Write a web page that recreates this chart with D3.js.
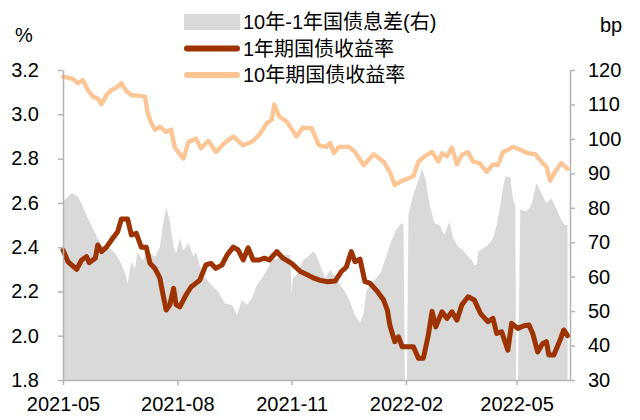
<!DOCTYPE html>
<html><head><meta charset="utf-8">
<script src="https://cdn.jsdelivr.net/npm/d3@7"></script>
<style>
html,body{margin:0;padding:0;background:#fff;}
text{font-family:"Liberation Sans",Arial,"Noto Sans CJK SC",sans-serif;fill:#000;}
</style></head>
<body><svg id="c" width="640" height="420"></svg>
<script>
// ---------- DATA ----------
const seriesNames = ["10年-1年国债息差(右)", "1年期国债收益率", "10年期国债收益率"];

const dates10Y = ["2021-05-01","2021-05-09","2021-05-13","2021-05-17","2021-05-21","2021-05-25","2021-05-29","2021-06-01","2021-06-05","2021-06-09","2021-06-13","2021-06-17","2021-06-21","2021-06-25","2021-06-30","2021-07-06","2021-07-08","2021-07-11","2021-07-14","2021-07-18","2021-07-23","2021-07-27","2021-07-30","2021-08-03","2021-08-06","2021-08-10","2021-08-16","2021-08-20","2021-08-26","2021-09-01","2021-09-08","2021-09-15","2021-09-23","2021-09-30","2021-10-06","2021-10-12","2021-10-16","2021-10-18","2021-10-22","2021-10-28","2021-11-05","2021-11-10","2021-11-17","2021-11-23","2021-11-29","2021-12-02","2021-12-05","2021-12-09","2021-12-17","2021-12-22","2021-12-29","2022-01-06","2022-01-14","2022-01-19","2022-01-23","2022-01-29","2022-02-07","2022-02-11","2022-02-16","2022-02-22","2022-02-27","2022-03-02","2022-03-06","2022-03-10","2022-03-14","2022-03-18","2022-03-23","2022-03-27","2022-04-01","2022-04-07","2022-04-12","2022-04-16","2022-04-20","2022-04-24","2022-04-28","2022-05-04","2022-05-10","2022-05-16","2022-05-21","2022-05-25","2022-05-28","2022-06-01","2022-06-06","2022-06-11"];
const yield10Y = [3.17,3.16,3.14,3.155,3.11,3.08,3.07,3.045,3.087,3.11,3.12,3.14,3.105,3.087,3.084,3.08,3.01,2.96,2.93,2.944,2.92,2.93,2.85,2.82,2.80,2.875,2.89,2.846,2.88,2.83,2.87,2.90,2.86,2.876,2.907,2.96,2.975,3.045,2.99,2.967,2.90,2.94,2.937,2.86,2.853,2.87,2.824,2.853,2.853,2.83,2.77,2.82,2.786,2.74,2.68,2.70,2.72,2.786,2.81,2.83,2.786,2.824,2.81,2.85,2.774,2.816,2.83,2.786,2.78,2.74,2.774,2.77,2.83,2.84,2.853,2.84,2.824,2.82,2.786,2.763,2.70,2.74,2.78,2.753];

const dates1Y = ["2021-05-01","2021-05-05","2021-05-12","2021-05-16","2021-05-20","2021-05-22","2021-05-27","2021-05-29","2021-06-01","2021-06-05","2021-06-10","2021-06-14","2021-06-17","2021-06-22","2021-06-25","2021-06-29","2021-07-03","2021-07-07","2021-07-10","2021-07-14","2021-07-18","2021-07-20","2021-07-23","2021-07-26","2021-07-29","2021-07-31","2021-08-03","2021-08-08","2021-08-12","2021-08-19","2021-08-24","2021-08-28","2021-09-01","2021-09-06","2021-09-10","2021-09-15","2021-09-19","2021-09-23","2021-09-27","2021-10-01","2021-10-06","2021-10-10","2021-10-14","2021-10-20","2021-10-25","2021-11-01","2021-11-08","2021-11-14","2021-11-19","2021-11-24","2021-11-30","2021-12-06","2021-12-11","2021-12-15","2021-12-19","2021-12-22","2021-12-26","2021-12-30","2022-01-03","2022-01-09","2022-01-14","2022-01-17","2022-01-19","2022-01-23","2022-01-26","2022-01-29","2022-02-07","2022-02-11","2022-02-15","2022-02-19","2022-02-22","2022-02-25","2022-03-02","2022-03-06","2022-03-10","2022-03-14","2022-03-18","2022-03-23","2022-03-28","2022-04-02","2022-04-08","2022-04-12","2022-04-15","2022-04-19","2022-04-24","2022-04-27","2022-05-02","2022-05-07","2022-05-11","2022-05-14","2022-05-18","2022-05-22","2022-05-25","2022-05-27","2022-05-31","2022-06-05","2022-06-08","2022-06-11"];
const yield1Y = [2.387,2.334,2.30,2.342,2.357,2.33,2.35,2.41,2.38,2.40,2.44,2.47,2.527,2.527,2.455,2.462,2.40,2.40,2.327,2.304,2.26,2.20,2.116,2.14,2.214,2.14,2.13,2.184,2.22,2.25,2.32,2.327,2.304,2.32,2.364,2.40,2.387,2.342,2.397,2.342,2.342,2.35,2.342,2.38,2.35,2.327,2.29,2.274,2.26,2.25,2.244,2.247,2.29,2.31,2.38,2.334,2.346,2.244,2.237,2.20,2.161,2.116,2.048,1.973,1.995,1.95,1.95,1.898,1.898,2.003,2.11,2.04,2.108,2.078,2.108,2.07,2.14,2.176,2.161,2.10,2.063,2.078,2.01,2.018,1.935,2.056,2.033,2.045,2.048,2.01,1.927,1.965,1.973,1.913,1.913,1.98,2.026,2.0];

const datesSpread = ["2021-05-01","2021-05-08","2021-05-13","2021-05-17","2021-05-21","2021-05-25","2021-05-29","2021-06-02","2021-06-08","2021-06-12","2021-06-16","2021-06-20","2021-06-22","2021-06-25","2021-06-28","2021-06-30","2021-07-04","2021-07-08","2021-07-14","2021-07-18","2021-07-20","2021-07-23","2021-07-26","2021-07-29","2021-07-31","2021-08-03","2021-08-06","2021-08-10","2021-08-14","2021-08-16","2021-08-19","2021-08-22","2021-08-27","2021-09-03","2021-09-08","2021-09-14","2021-09-18","2021-09-22","2021-09-26","2021-09-30","2021-10-04","2021-10-08","2021-10-12","2021-10-16","2021-10-21","2021-10-26","2021-10-31","2021-11-01","2021-11-02","2021-11-06","2021-11-10","2021-11-14","2021-11-18","2021-11-20","2021-11-24","2021-11-28","2021-12-02","2021-12-06","2021-12-10","2021-12-14","2021-12-18","2021-12-22","2021-12-26","2021-12-29","2021-12-31","2022-01-04","2022-01-08","2022-01-12","2022-01-16","2022-01-20","2022-01-24","2022-01-28","2022-01-30","2022-02-01","2022-02-03","2022-02-07","2022-02-11","2022-02-14","2022-02-17","2022-02-20","2022-02-24","2022-02-28","2022-03-04","2022-03-08","2022-03-11","2022-03-15","2022-03-19","2022-03-23","2022-03-26","2022-03-28","2022-03-30","2022-03-31","2022-04-04","2022-04-08","2022-04-12","2022-04-15","2022-04-18","2022-04-20","2022-04-22","2022-04-26","2022-04-28","2022-04-30","2022-05-01","2022-05-04","2022-05-09","2022-05-13","2022-05-17","2022-05-21","2022-05-25","2022-05-29","2022-06-02","2022-06-06","2022-06-09","2022-06-11"];
const spreadBp = [81.8,84.2,83.2,80.3,77,74,71.1,68.7,68.2,66.8,64.3,61,58.1,64.3,62.4,67.2,64.8,67.2,65.8,68.7,74,80.3,76,68.7,66.8,71.1,67.7,69.7,65.8,67.2,63.4,60.5,58.1,55.6,52.3,51.8,48.9,53.2,51.8,53.7,57.6,59.5,61.9,64.8,65.3,66.3,66.3,55,59.5,61,64.8,65.8,67.2,66.8,63.4,59.5,61.9,60,57.6,55.6,52.7,48.9,46.5,49.3,55.6,58.1,59.5,61.4,65.8,70.1,73.5,75.5,75,0,78,84,88,91.5,87.6,80.8,75.5,75,72.1,76,71.1,68.7,67.7,65.8,64.8,63.4,63.4,67.2,68.2,69.2,71.1,75,80.8,85.6,89,89,82.7,80.8,0,79.4,78.9,80.8,87.1,84.2,81.3,82.7,79.8,76.4,75,75];

const leftTicks = [1.8,2.0,2.2,2.4,2.6,2.8,3.0,3.2];
const rightTicks = [30,40,50,60,70,80,90,100,110,120];
const xTickLabels = ["2021-05","2021-08","2021-11","2022-02","2022-05"];
const xDomain = ["2021-05-01","2022-06-13"];

// ---------- CHART ----------
const parse = d3.timeParse("%Y-%m-%d");
const parseM = d3.timeParse("%Y-%m");
const svg = d3.select("#c");
const L = 63, R = 570, T = 70, B = 380;

const x = d3.scaleTime().domain(xDomain.map(parse)).range([L, R]);
const yL = d3.scaleLinear().domain([1.8, 3.2]).range([B, T]);
const yR = d3.scaleLinear().domain([30, 120]).range([B, T]);

svg.append("defs").append("clipPath").attr("id","plot")
  .append("rect").attr("x", L).attr("y", T - 10).attr("width", R - L).attr("height", B - T + 10);

const spreadData = datesSpread.map((d,i)=>({d:parse(d), v:spreadBp[i]}));
const d1 = dates1Y.map((d,i)=>({d:parse(d), v:yield1Y[i]}));
const d10 = dates10Y.map((d,i)=>({d:parse(d), v:yield10Y[i]}));

svg.append("path").datum(spreadData)
  .attr("clip-path","url(#plot)")
  .attr("fill","#D9D9D9")
  .attr("d", d3.area().x(p=>x(p.d)).y0(B).y1(p=>yR(p.v)));

svg.append("path").datum(d10)
  .attr("fill","none").attr("stroke","#FDC593").attr("stroke-width",4.3)
  .attr("stroke-linejoin","round").attr("stroke-linecap","round")
  .attr("d", d3.line().x(p=>x(p.d)).y(p=>yL(p.v)));

svg.append("path").datum(d1)
  .attr("fill","none").attr("stroke","#9C3300").attr("stroke-width",5)
  .attr("stroke-linejoin","round").attr("stroke-linecap","round")
  .attr("d", d3.line().x(p=>x(p.d)).y(p=>yL(p.v)));

// axes
const axisColor = "#B4B4B4";
function styleAxis(g){
  g.selectAll("path.domain").attr("stroke", axisColor).attr("stroke-width",1.5);
  g.selectAll(".tick line").attr("stroke", axisColor).attr("stroke-width",1.5);
  g.selectAll("text").attr("font-size", 20).attr("font-family",'"Liberation Sans",Arial,sans-serif').attr("fill","#000");
}
svg.append("g").attr("transform",`translate(${L},0)`)
  .call(d3.axisLeft(yL).tickValues(leftTicks).tickFormat(d3.format(".1f")).tickSize(5).tickSizeOuter(0).tickPadding(19))
  .call(styleAxis);
svg.append("g").attr("transform",`translate(${R},0)`)
  .call(d3.axisRight(yR).tickValues(rightTicks).tickFormat(d3.format("d")).tickSize(5).tickSizeOuter(0).tickPadding(13))
  .call(styleAxis);
svg.append("g").attr("transform",`translate(0,${B})`)
  .call(d3.axisBottom(x).tickValues(xTickLabels.map(parseM)).tickFormat(d3.timeFormat("%Y-%m")).tickSize(5).tickSizeOuter(0).tickPadding(12))
  .call(styleAxis);

// unit labels
svg.append("text").attr("x",24).attr("y",35).attr("dy","0.35em").attr("text-anchor","middle").attr("font-size",20).text("%");
svg.append("text").attr("x",611).attr("y",25).attr("dy","0.35em").attr("text-anchor","middle").attr("font-size",20).text("bp");

// legend
const lg = svg.append("g");
const rows = [22, 48.5, 75];
lg.append("rect").attr("x",184).attr("y",14).attr("width",56).attr("height",16).attr("fill","#D9D9D9");
lg.append("line").attr("x1",187).attr("x2",237).attr("y1",rows[1]).attr("y2",rows[1])
  .attr("stroke","#9C3300").attr("stroke-width",6).attr("stroke-linecap","round");
lg.append("line").attr("x1",187).attr("x2",237).attr("y1",rows[2]).attr("y2",rows[2])
  .attr("stroke","#FDC593").attr("stroke-width",6).attr("stroke-linecap","round");
seriesNames.forEach((n,i)=>{
  lg.append("text").attr("x",243).attr("y",rows[i]).attr("dy","0.36em").attr("font-size",20)
    .attr("font-family",'"Liberation Sans","Noto Sans CJK SC",sans-serif').text(n);
});
</script></body></html>
